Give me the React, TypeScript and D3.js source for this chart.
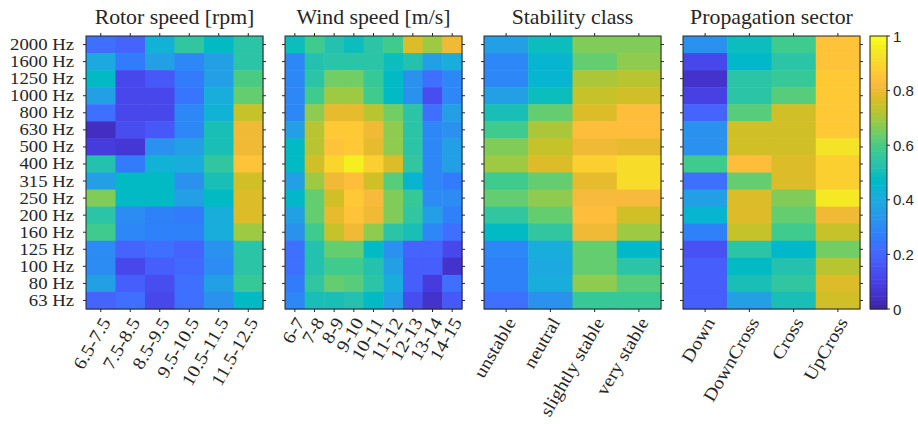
import React from "react";
import * as d3 from "d3";

const freqs = ["2000 Hz","1600 Hz","1250 Hz","1000 Hz","800 Hz","630 Hz","500 Hz","400 Hz","315 Hz","250 Hz","200 Hz","160 Hz","125 Hz","100 Hz","80 Hz","63 Hz"];

const rotorCats = ["6.5-7.5","7.5-8.5","8.5-9.5","9.5-10.5","10.5-11.5","11.5-12.5"];
const rotorValues = [
  [0.23,0.20,0.43,0.55,0.48,0.54],
  [0.40,0.25,0.37,0.29,0.36,0.54],
  [0.48,0.12,0.17,0.25,0.37,0.60],
  [0.37,0.11,0.11,0.24,0.41,0.63],
  [0.22,0.11,0.11,0.29,0.43,0.74],
  [0.04,0.13,0.17,0.29,0.50,0.80],
  [0.09,0.07,0.32,0.36,0.51,0.80],
  [0.52,0.25,0.43,0.41,0.55,0.85],
  [0.37,0.47,0.47,0.32,0.51,0.76],
  [0.66,0.47,0.47,0.37,0.48,0.77],
  [0.54,0.30,0.27,0.25,0.41,0.77],
  [0.58,0.29,0.27,0.27,0.41,0.70],
  [0.30,0.19,0.23,0.19,0.32,0.54],
  [0.30,0.12,0.18,0.21,0.30,0.54],
  [0.36,0.18,0.13,0.22,0.36,0.57],
  [0.19,0.22,0.11,0.23,0.32,0.48],
];

const windCats = ["6-7","7-8","8-9","9-10","10-11","11-12","12-13","13-14","14-15"];
const windValues = [
  [0.49,0.58,0.52,0.49,0.54,0.58,0.77,0.70,0.81],
  [0.29,0.52,0.54,0.54,0.54,0.49,0.53,0.37,0.41],
  [0.29,0.54,0.65,0.65,0.57,0.47,0.32,0.23,0.29],
  [0.29,0.58,0.70,0.70,0.58,0.47,0.32,0.14,0.29],
  [0.29,0.68,0.79,0.79,0.72,0.65,0.54,0.23,0.37],
  [0.37,0.72,0.87,0.87,0.80,0.68,0.54,0.29,0.32],
  [0.47,0.72,0.85,0.87,0.79,0.68,0.54,0.29,0.36],
  [0.47,0.75,0.90,0.96,0.88,0.77,0.55,0.29,0.36],
  [0.37,0.70,0.80,0.84,0.75,0.61,0.45,0.29,0.26],
  [0.46,0.63,0.76,0.87,0.82,0.66,0.57,0.31,0.31],
  [0.37,0.63,0.79,0.85,0.80,0.66,0.55,0.36,0.27],
  [0.32,0.58,0.74,0.80,0.68,0.54,0.51,0.29,0.23],
  [0.23,0.52,0.63,0.63,0.47,0.32,0.19,0.19,0.12],
  [0.23,0.52,0.58,0.58,0.52,0.37,0.18,0.18,0.06],
  [0.26,0.55,0.63,0.61,0.54,0.41,0.18,0.08,0.22],
  [0.29,0.50,0.51,0.52,0.48,0.36,0.14,0.05,0.17],
];

const stabilityCats = ["unstable","neutral","slightly stable","very stable"];
const stabilityValues = [
  [0.37,0.49,0.66,0.66],
  [0.29,0.45,0.64,0.68],
  [0.29,0.45,0.71,0.72],
  [0.37,0.49,0.74,0.75],
  [0.51,0.63,0.78,0.84],
  [0.58,0.71,0.84,0.84],
  [0.67,0.74,0.81,0.79],
  [0.70,0.78,0.88,0.92],
  [0.58,0.63,0.79,0.92],
  [0.63,0.68,0.82,0.82],
  [0.55,0.63,0.84,0.75],
  [0.47,0.55,0.80,0.69],
  [0.29,0.41,0.64,0.46],
  [0.28,0.40,0.64,0.54],
  [0.28,0.41,0.68,0.62],
  [0.23,0.32,0.57,0.57],
];

const sectorCats = ["Down","DownCross","Cross","UpCross"];
const sectorValues = [
  [0.32,0.49,0.58,0.85],
  [0.12,0.46,0.54,0.85],
  [0.06,0.54,0.57,0.86],
  [0.10,0.54,0.61,0.87],
  [0.19,0.61,0.75,0.87],
  [0.32,0.75,0.76,0.87],
  [0.32,0.75,0.76,0.93],
  [0.58,0.84,0.77,0.88],
  [0.23,0.63,0.77,0.88],
  [0.37,0.77,0.66,0.95],
  [0.45,0.77,0.64,0.81],
  [0.27,0.74,0.58,0.74],
  [0.15,0.54,0.46,0.65],
  [0.18,0.47,0.52,0.72],
  [0.18,0.50,0.55,0.77],
  [0.18,0.37,0.51,0.76],
];

const titles = ["Rotor speed [rpm]","Wind speed [m/s]","Stability class","Propagation sector"];
const colorbarTicks = [0,0.2,0.4,0.6,0.8,1];

// MATLAB parula (64 entries) colormap
const parulaRGB = [
[0.2422,0.1504,0.6603],[0.2504,0.1650,0.7076],[0.2578,0.1818,0.7511],[0.2647,0.1978,0.7952],
[0.2706,0.2147,0.8364],[0.2751,0.2342,0.8710],[0.2783,0.2559,0.8991],[0.2803,0.2782,0.9221],
[0.2813,0.3006,0.9414],[0.2810,0.3228,0.9579],[0.2795,0.3447,0.9717],[0.2760,0.3667,0.9829],
[0.2699,0.3892,0.9906],[0.2602,0.4123,0.9952],[0.2440,0.4358,0.9988],[0.2206,0.4603,0.9973],
[0.1963,0.4847,0.9892],[0.1834,0.5074,0.9798],[0.1786,0.5289,0.9682],[0.1764,0.5499,0.9520],
[0.1687,0.5703,0.9359],[0.1540,0.5902,0.9218],[0.1460,0.6091,0.9079],[0.1380,0.6276,0.8973],
[0.1248,0.6459,0.8883],[0.1113,0.6635,0.8763],[0.0952,0.6798,0.8598],[0.0689,0.6948,0.8394],
[0.0297,0.7082,0.8163],[0.0036,0.7203,0.7917],[0.0067,0.7312,0.7660],[0.0433,0.7411,0.7394],
[0.0964,0.7500,0.7120],[0.1408,0.7584,0.6842],[0.1717,0.7670,0.6554],[0.1938,0.7758,0.6251],
[0.2161,0.7843,0.5923],[0.2470,0.7918,0.5567],[0.2906,0.7973,0.5188],[0.3406,0.8008,0.4789],
[0.3909,0.8029,0.4354],[0.4456,0.8024,0.3909],[0.5044,0.7993,0.3480],[0.5616,0.7942,0.3045],
[0.6174,0.7876,0.2612],[0.6720,0.7793,0.2227],[0.7242,0.7698,0.1910],[0.7738,0.7598,0.1646],
[0.8203,0.7498,0.1535],[0.8634,0.7406,0.1596],[0.9035,0.7330,0.1774],[0.9393,0.7288,0.2100],
[0.9728,0.7298,0.2394],[0.9956,0.7434,0.2371],[0.9970,0.7659,0.2199],[0.9952,0.7893,0.2028],
[0.9892,0.8136,0.1885],[0.9786,0.8386,0.1766],[0.9676,0.8639,0.1643],[0.9610,0.8890,0.1537],
[0.9597,0.9135,0.1423],[0.9628,0.9373,0.1265],[0.9691,0.9606,0.1064],[0.9769,0.9839,0.0805],
];
const parula = parulaRGB.map(([r, g, b]) => d3.rgb(r * 255, g * 255, b * 255).formatHex());

const W = 918, H = 424;
const TOP = 36, BOTTOM = 309;
const panelX = [[86, 263], [285, 462], [484, 661], [683, 860]];
const CB = { x0: 870, x1: 887 };
const AX = "#262626";
const SERIF = "'Liberation Serif', 'Times New Roman', serif";
const SANS = "'Liberation Sans', Arial, sans-serif";
const TICK = 3;

const color = d3.scaleQuantize<string>().domain([0, 1]).range(parula);
const yScale = d3.scaleBand<string>().domain(freqs).range([TOP, BOTTOM]);

const panels = [
  { cats: rotorCats, values: rotorValues },
  { cats: windCats, values: windValues },
  { cats: stabilityCats, values: stabilityValues },
  { cats: sectorCats, values: sectorValues },
];

function Panel({ idx }: { idx: number }) {
  const { cats, values } = panels[idx];
  const [x0, x1] = panelX[idx];
  const x = d3.scaleBand<string>().domain(cats).range([x0, x1]);
  const bw = x.bandwidth();
  const bh = yScale.bandwidth();
  return (
    <g>
      {freqs.map((f, r) =>
        cats.map((c, ci) => (
          <rect key={f + c} x={x(c)} y={yScale(f)} width={bw + 0.5} height={bh + 0.5}
            fill={color(values[r][ci])} />
        ))
      )}
      <rect x={x0} y={TOP} width={x1 - x0} height={BOTTOM - TOP} fill="none" stroke={AX} strokeWidth={1} />
      {cats.map((c) => {
        const cx = (x(c) as number) + bw / 2;
        return (
          <g key={"t" + c}>
            <line x1={cx} x2={cx} y1={TOP} y2={TOP - TICK} stroke={AX} />
            <line x1={cx} x2={cx} y1={BOTTOM} y2={BOTTOM + TICK} stroke={AX} />
            <text transform={`translate(${cx + 5},${BOTTOM + 10}) rotate(-60) scale(1.1,1)`} textAnchor="end"
              dominantBaseline="central" fontFamily={SERIF} fontSize={18} fill={AX}>{c}</text>
          </g>
        );
      })}
      {freqs.map((f) => {
        const cy = (yScale(f) as number) + bh / 2;
        return (
          <g key={"y" + f}>
            <line x1={x0} x2={x0 - TICK} y1={cy} y2={cy} stroke={AX} />
            <line x1={x1} x2={x1 + TICK} y1={cy} y2={cy} stroke={AX} />
            {idx === 0 && (
              <text transform={`translate(${x0 - 12},${cy}) scale(1.17,1)`} textAnchor="end" dominantBaseline="central"
                fontFamily={SERIF} fontSize={16} fill={AX}>{f}</text>
            )}
          </g>
        );
      })}
      <text transform={`translate(${(x0 + x1) / 2},${TOP - 12}) scale(1.09,1)`} textAnchor="middle"
        fontFamily={SERIF} fontSize={20} fill={AX}>
        {titles[idx]}
      </text>
    </g>
  );
}

function Colorbar() {
  const cbY = d3.scaleLinear().domain([0, 1]).range([BOTTOM, TOP]);
  const n = parula.length;
  return (
    <g>
      {parula.map((c, i) => (
        <rect key={i} x={CB.x0} y={cbY((i + 1) / n)} width={CB.x1 - CB.x0}
          height={cbY(i / n) - cbY((i + 1) / n) + 0.5} fill={c} />
      ))}
      <rect x={CB.x0} y={TOP} width={CB.x1 - CB.x0} height={BOTTOM - TOP} fill="none" stroke={AX} />
      {colorbarTicks.map((t) => (
        <g key={t}>
          <line x1={CB.x1} x2={CB.x1 + TICK} y1={cbY(t)} y2={cbY(t)} stroke={AX} />
          <text x={CB.x1 + 6} y={cbY(t)} dominantBaseline="central" fontFamily={SANS}
            fontSize={15} fill={AX}>{d3.format("~g")(t)}</text>
        </g>
      ))}
    </g>
  );
}

export default function App() {
  return (
    <svg width={W} height={H} style={{ position: "fixed", left: 0, top: 0, background: "#fff" }}>
      <rect width={W} height={H} fill="#fff" />
      {panels.map((_, i) => <Panel key={i} idx={i} />)}
      <Colorbar />
    </svg>
  );
}
